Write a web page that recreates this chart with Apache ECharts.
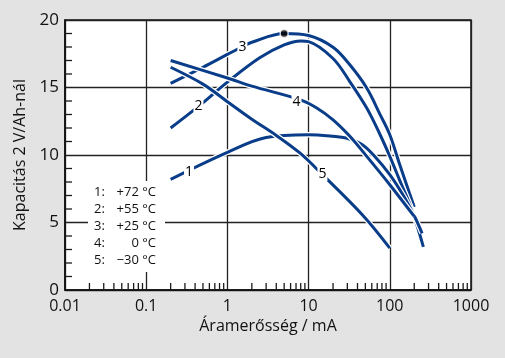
<!DOCTYPE html>
<html>
<head>
<meta charset="utf-8">
<script src="https://cdn.jsdelivr.net/npm/echarts@6/dist/echarts.min.js"></script>
<style>
html,body{margin:0;padding:0;background:#e3e3e3;}
#c{width:505px;height:358px;}
</style>
</head>
<body>
<div id="c"></div>
<script>
// ---- data (current in mA, capacity) ----
const c1x = [0.2, 1, 3, 10, 20, 29, 45, 63, 100, 150, 200, 250];
const c1y = [8.2, 10.2, 11.3, 11.5, 11.39, 11.26, 10.8, 10.0, 8.54, 6.9, 5.5, 4.2];
const c2x = [0.2, 0.44, 1, 2.5, 5, 8, 10, 20, 32, 52, 76, 100, 134, 186, 259];
const c2y = [12.0, 13.6, 15.4, 17.2, 18.15, 18.45, 18.4, 17.15, 15.46, 13.48, 11.5, 9.9, 8.05, 6.0, 3.2];
const c3x = [0.2, 0.5, 1, 1.5, 2, 5, 10, 20, 32, 52, 76, 100, 134, 200];
const c3y = [15.3, 16.5, 17.45, 18.0, 18.35, 19.0, 18.85, 17.98, 16.7, 14.96, 12.99, 11.5, 9.2, 6.15];
const c4x = [0.2, 1, 2, 7.8, 12.6, 20, 32, 52, 100, 200];
const c4y = [17.0, 15.7, 15.1, 14.1, 13.48, 12.6, 11.4, 9.9, 7.8, 5.45];
const c5x = [0.2, 0.5, 1, 2, 4, 7.8, 14.5, 47, 100];
const c5y = [16.5, 15.25, 13.95, 12.65, 11.45, 10.15, 8.6, 5.5, 3.1];
const curveNames = ['1', '2', '3', '4', '5'];
const labelX = [0.337, 0.44, 1.53, 7.1, 14.8];
const labelY = [8.72, 13.63, 18.02, 13.95, 8.59];
const peakPoint = [5, 19.0];
const legendKeys = ['1:', '2:', '3:', '4:', '5:'];
const legendTemps = ['+72 °C', '+55 °C', '+25 °C', '0 °C', '\u221230 °C'];
const xMinorTicks = [0.02,0.03,0.04,0.05,0.06,0.07,0.08,0.09,
  0.2,0.3,0.4,0.5,0.6,0.7,0.8,0.9,
  2,3,4,5,6,7,8,9,
  20,30,40,50,60,70,80,90,
  200,300,400,500,600,700,800,900];
const yMinorTicks = [1,2,3,4,6,7,8,9,11,12,13,14,16,17,18,19];

const FONT = 'Open Sans';
const BLUE = '#0a3d89';
const zip = (xs, ys) => xs.map((x, i) => [x, ys[i]]);
const curves = { '1': zip(c1x, c1y), '2': zip(c2x, c2y), '3': zip(c3x, c3y), '4': zip(c4x, c4y), '5': zip(c5x, c5y) };
const drawOrder = ['3', '2', '1', '4', '5'];

const series = [];
drawOrder.forEach(k => {
  series.push({ type: 'line', data: curves[k], smooth: 0.35, symbol: 'none', silent: true,
    lineStyle: { color: '#ffffff', width: 5.5, cap: 'butt' } });
  series.push({ type: 'line', data: curves[k], smooth: 0.35, symbol: 'none', silent: true,
    lineStyle: { color: BLUE, width: 3, cap: 'butt' } });
});
series.push({
  type: 'custom', silent: true, data: xMinorTicks.map(v => [v, 0]),
  renderItem: (params, api) => {
    const p = api.coord([api.value(0), 0]);
    return { type: 'line', shape: { x1: p[0], y1: p[1], x2: p[0], y2: p[1] - 7 },
      style: { stroke: '#1a1a1a', lineWidth: 1.3 } };
  }
});
series.push({
  type: 'custom', silent: true, data: yMinorTicks.map(v => [0.01, v]),
  renderItem: (params, api) => {
    const p = api.coord([0.01, api.value(1)]);
    return { type: 'line', shape: { x1: p[0], y1: p[1], x2: p[0] + 7, y2: p[1] },
      style: { stroke: '#1a1a1a', lineWidth: 1.3 } };
  }
});
series.push({
  type: 'scatter', silent: true, symbolSize: 8,
  itemStyle: { color: '#000', borderColor: '#ffffff', borderWidth: 1.5 },
  data: [peakPoint], z: 6
});
series.push({
  type: 'scatter', silent: true, symbolSize: 1, itemStyle: { color: '#ffffff', opacity: 1 },
  data: curveNames.map((n, i) => ({ name: n, value: [labelX[i], labelY[i]] })),
  label: { show: true, position: 'inside', formatter: '{b}', color: '#000', fontFamily: FONT,
    fontSize: 14, backgroundColor: '#ffffff', padding: [0, 1] },
  z: 5
});

const legendText = legendKeys.map((k, i) => '{n|' + k + '}{v|' + legendTemps[i] + '}').join('\n');

const chart = echarts.init(document.getElementById('c'));
chart.setOption({
  backgroundColor: '#e3e3e3',
  animation: false,
  title: {
    text: legendText, left: 88, top: 181, padding: [3, 9, 3, 6],
    backgroundColor: '#ffffff',
    textStyle: {
      fontFamily: FONT, fontSize: 13, fontWeight: 'normal', color: '#111', lineHeight: 17,
      rich: {
        n: { fontFamily: FONT, fontSize: 13, color: '#111', width: 22, lineHeight: 17 },
        v: { fontFamily: FONT, fontSize: 13, color: '#111', width: 40, align: 'right', lineHeight: 17 }
      }
    }
  },
  grid: { left: 65, right: 34, top: 20, bottom: 68, show: true, backgroundColor: '#ffffff',
    borderColor: '#111', borderWidth: 1.5 },
  xAxis: {
    type: 'log', logBase: 10, min: 0.01, max: 1000,
    name: 'Áramerősség / mA', nameLocation: 'middle', nameGap: 26,
    nameTextStyle: { fontFamily: FONT, fontSize: 16, color: '#111' },
    axisLine: { show: true, lineStyle: { color: '#111', width: 1.5 } },
    axisTick: { show: false },
    axisLabel: { fontFamily: FONT, fontSize: 16, color: '#111', margin: 8,
      formatter: v => String(v) },
    splitLine: { show: true, lineStyle: { color: '#222', width: 1.3 } }
  },
  yAxis: {
    type: 'value', min: 0, max: 20, interval: 5,
    name: 'Kapacitás 2 V/Ah-nál', nameLocation: 'middle', nameGap: 36,
    nameTextStyle: { fontFamily: FONT, fontSize: 16, color: '#111' },
    axisLine: { show: true, lineStyle: { color: '#111', width: 1.5 } },
    axisTick: { show: false },
    axisLabel: { fontFamily: FONT, fontSize: 17, color: '#111', margin: 6 },
    splitLine: { show: true, lineStyle: { color: '#222', width: 1.3 } }
  },
  series: series
});
</script>
</body>
</html>
